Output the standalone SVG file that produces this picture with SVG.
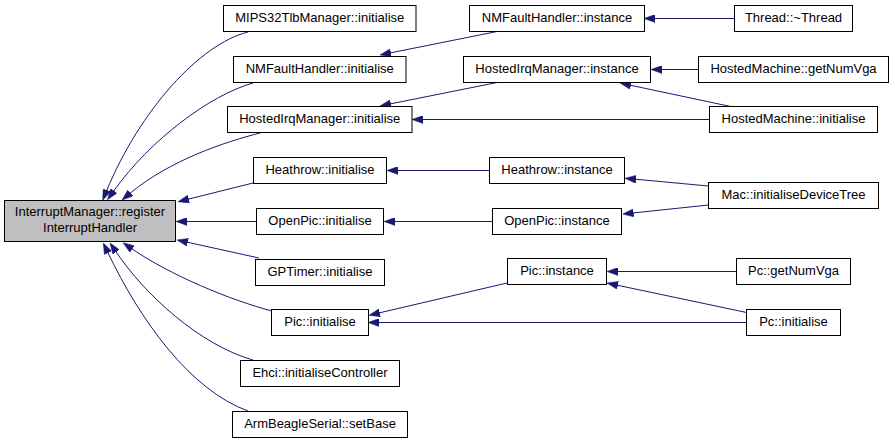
<svg xmlns="http://www.w3.org/2000/svg" width="895" height="443" viewBox="0 0 895 443">
<defs>
<style>
.node rect{fill:#ffffff;stroke:#000000;stroke-width:1}
.node.start rect{fill:#bfbfbf}
.node text{font-family:"Liberation Sans",Arial,sans-serif;font-size:13px;fill:#000000;text-anchor:middle}
.edge{fill:none;stroke:#191970;stroke-width:1;marker-end:url(#arrow)}
</style>
<marker id="arrow" viewBox="0 0 11 8" markerWidth="11" markerHeight="8" refX="1" refY="4" orient="auto" markerUnits="userSpaceOnUse">
<path d="M0,0 L11,4 L0,8 z" fill="#191970" stroke="#191970" stroke-width="0.5"/>
</marker>
</defs>
<rect width="895" height="443" fill="#ffffff"/>
<g id="connectors">
<path class="edge" d="M248,32 C200,44 140,110 106.5,191"/>
<path class="edge" d="M253,83 C210,95 150,140 113.3,191.5"/>
<path class="edge" d="M260,133 C225,142 170,160 129.7,193.6"/>
<path class="edge" d="M253,183 L187.7,199.3"/>
<path class="edge" d="M256,221.5 L186,221.5"/>
<path class="edge" d="M259,258 L186.8,242.1"/>
<path class="edge" d="M272,311 C230,300 170,275 131.4,248.5"/>
<path class="edge" d="M253,360 C200,345 145,295 115.6,251.2"/>
<path class="edge" d="M248,411 C190,390 140,320 107.6,252"/>
<path class="edge" d="M497,31.5 L389.8,53"/>
<path class="edge" d="M497,82.5 L389.8,104"/>
<path class="edge" d="M709,119.5 L422,119.5"/>
<path class="edge" d="M489,170.5 L397,170.5"/>
<path class="edge" d="M492,221.5 L394,221.5"/>
<path class="edge" d="M507,283 L378.8,313"/>
<path class="edge" d="M746.5,322.5 L378,322.5"/>
<path class="edge" d="M734,18.5 L654,18.5"/>
<path class="edge" d="M698,69.5 L661,69.5"/>
<path class="edge" d="M733,107 L629.8,85.1"/>
<path class="edge" d="M708.5,186 L635,179.2"/>
<path class="edge" d="M708.5,205 L632.6,213"/>
<path class="edge" d="M736,271.5 L617,271.5"/>
<path class="edge" d="M746.5,312.5 L616.8,285.1"/>
</g>
<g id="n1" class="node start"><rect x="4.5" y="200.5" width="171" height="41"/><text x="90" y="216">InterruptManager::register</text><text x="90" y="231.5">InterruptHandler</text></g>
<g id="n2" class="node"><rect x="223.5" y="5.5" width="192.5" height="26"/><text x="319.75" y="22">MIPS32TlbManager::initialise</text></g>
<g id="n3" class="node"><rect x="233.5" y="56.5" width="172.5" height="26"/><text x="319.75" y="73">NMFaultHandler::initialise</text></g>
<g id="n4" class="node"><rect x="227.5" y="106.5" width="184.5" height="26"/><text x="319.75" y="123">HostedIrqManager::initialise</text></g>
<g id="n5" class="node"><rect x="253.5" y="157.5" width="133" height="26"/><text x="320" y="174">Heathrow::initialise</text></g>
<g id="n6" class="node"><rect x="256.5" y="208.5" width="127" height="26"/><text x="320" y="225">OpenPic::initialise</text></g>
<g id="n7" class="node"><rect x="255.5" y="259.5" width="129" height="26"/><text x="320" y="276">GPTimer::initialise</text></g>
<g id="n8" class="node"><rect x="271.5" y="309.5" width="97" height="26"/><text x="320" y="326">Pic::initialise</text></g>
<g id="n9" class="node"><rect x="240.5" y="360.5" width="159" height="26"/><text x="320" y="377">Ehci::initialiseController</text></g>
<g id="n10" class="node"><rect x="232.5" y="411.5" width="175" height="26"/><text x="320" y="428">ArmBeagleSerial::setBase</text></g>
<g id="n11" class="node"><rect x="469.5" y="5.5" width="175" height="26"/><text x="557" y="22">NMFaultHandler::instance</text></g>
<g id="n12" class="node"><rect x="463.5" y="56.5" width="187" height="26"/><text x="557" y="73">HostedIrqManager::instance</text></g>
<g id="n13" class="node"><rect x="489.5" y="157.5" width="135" height="26"/><text x="557" y="174">Heathrow::instance</text></g>
<g id="n14" class="node"><rect x="492.5" y="208.5" width="129" height="26"/><text x="557" y="225">OpenPic::instance</text></g>
<g id="n15" class="node"><rect x="507.5" y="258.5" width="99" height="26"/><text x="557" y="275">Pic::instance</text></g>
<g id="n16" class="node"><rect x="734.5" y="5.5" width="118" height="26"/><text x="793.5" y="22">Thread::~Thread</text></g>
<g id="n17" class="node"><rect x="698.5" y="56.5" width="190" height="26"/><text x="793.5" y="73">HostedMachine::getNumVga</text></g>
<g id="n18" class="node"><rect x="709.5" y="106.5" width="168" height="26"/><text x="793.5" y="123">HostedMachine::initialise</text></g>
<g id="n19" class="node"><rect x="708.5" y="182.5" width="170" height="26"/><text x="793.5" y="199">Mac::initialiseDeviceTree</text></g>
<g id="n20" class="node"><rect x="736.5" y="258.5" width="114" height="26"/><text x="793.5" y="275">Pc::getNumVga</text></g>
<g id="n21" class="node"><rect x="746.5" y="309.5" width="94" height="26"/><text x="793.5" y="326">Pc::initialise</text></g>
</svg>
